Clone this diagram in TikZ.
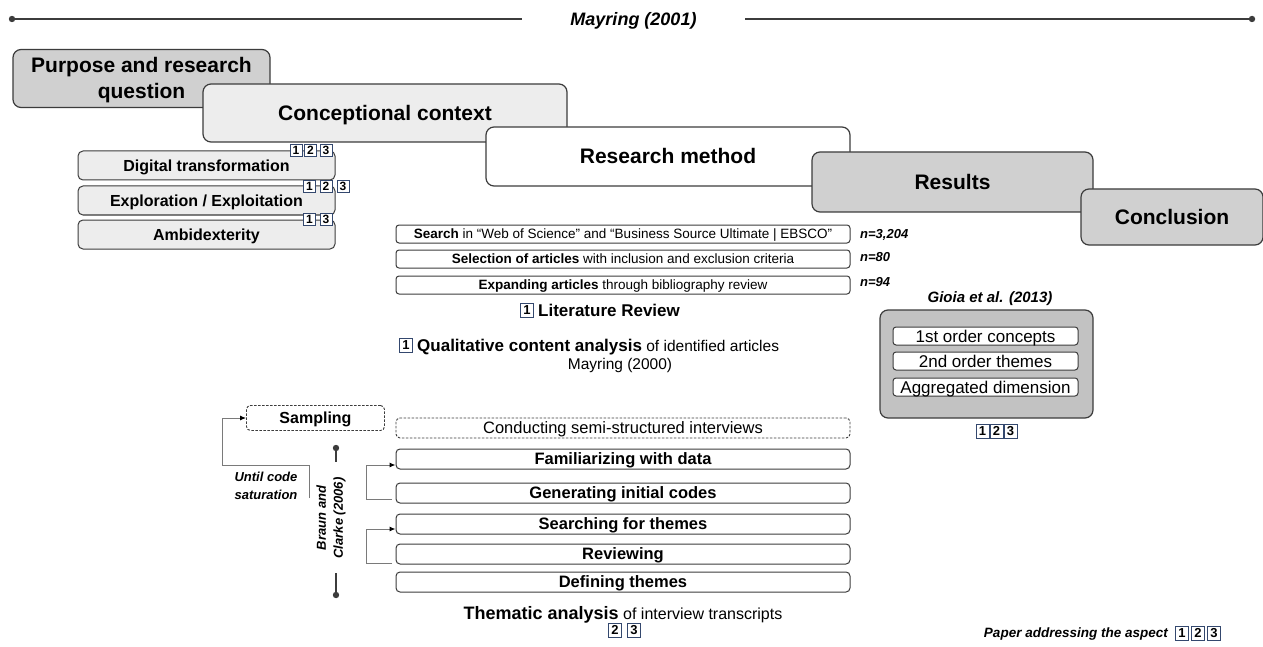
\documentclass[tikz,border=0pt]{standalone}
\usepackage{fontspec}
\setmainfont{Liberation Sans}
\usetikzlibrary{arrows.meta}
\definecolor{edge}{HTML}{3C3C3C}
\definecolor{darkfill}{HTML}{D0D0D0}
\definecolor{lightfill}{HTML}{EDEDED}
\definecolor{gioiafill}{HTML}{C2C2C2}
\definecolor{badgeedge}{HTML}{34486E}
\definecolor{loopline}{HTML}{7A7A7A}
\newcommand{\fsz}[1]{\fontsize{#1}{#1}\selectfont}
\tikzset{
  stage/.style={draw=edge, line width=1.2pt, rounded corners=8pt, align=center,
    inner sep=0pt, text height=15pt, text depth=0pt,
    font=\bfseries\fontsize{21}{26}\selectfont},
  subbox/.style={draw=edge, line width=1pt, fill=lightfill, rounded corners=5pt,
    inner sep=0pt, minimum width=257pt, minimum height=29pt,
    text height=11.5pt, text depth=0pt, font=\bfseries\fsz{16}},
  litbox/.style={draw=edge, line width=1pt, rounded corners=3pt, inner sep=0pt,
    minimum width=454pt, minimum height=18pt, text height=9.7pt, text depth=0pt,
    font=\fsz{13.5}},
  stepbox/.style={draw=edge, line width=1pt, rounded corners=4pt, inner sep=0pt,
    minimum width=454pt, minimum height=20pt, text height=11.8pt, text depth=0pt,
    font=\bfseries\fsz{16.5}},
  dashbox/.style={draw=edge, line width=0.9pt, dash pattern=on 2.5pt off 1.5pt,
    rounded corners=4pt, inner sep=0pt, text height=11.6pt, text depth=0pt},
  gbox/.style={draw=edge, line width=1pt, fill=white, rounded corners=3pt, inner sep=0pt,
    minimum width=185pt, minimum height=18pt, text height=12pt, text depth=0pt,
    font=\fsz{17}},
  badgebox/.style={draw=badgeedge, fill=white, line width=0.9pt, minimum width=12pt,
    minimum height=12pt, inner sep=0pt, text height=8.6pt, text depth=0pt,
    font=\bfseries\fsz{12}},
  bigbadge/.style={badgebox, minimum width=13pt, minimum height=14pt,
    text height=9.3pt, font=\bfseries\fsz{13}},
  nlabel/.style={anchor=west, inner sep=0pt, text height=9.3pt, text depth=0pt,
    font=\bfseries\itshape\fsz{13}},
  tip/.style={-{Latex[length=6pt,width=5pt,color=black]}, draw=loopline, line width=1pt},
}
\begin{document}
\begin{tikzpicture}[x=1pt, y=-1pt]
\useasboundingbox[fill=white] (0,0) rectangle (1263,647);

% timeline with title
\coordinate (tl) at (12,19);
\coordinate (tr) at (1252,19);
\draw[line width=1.3pt, edge] (tl) -- (tr);
\fill[edge] (tl) circle (3.2) (tr) circle (3.2);
\node[fill=white, minimum width=223pt, minimum height=30pt, inner sep=0pt,
  text height=12.5pt, text depth=0pt, font=\bfseries\itshape\fsz{18}] (title)
  at (633.5,19) {Mayring (2001)};

% stacked stage boxes
\node[stage, fill=darkfill, minimum width=257pt, minimum height=58pt, text height=41pt]
  (purpose) at (141.5,78.5) {Purpose and research\\question};
\node[stage, fill=lightfill, minimum width=364pt, minimum height=58pt] (concept) at (385,113)
  {Conceptional context};
\node[stage, fill=white, minimum width=364pt, minimum height=59pt] (method) at (668,156.5)
  {Research method};
\node[stage, fill=darkfill, minimum width=281pt, minimum height=60pt] (results) at (952.5,182)
  {Results};
\node[stage, fill=darkfill, minimum width=182pt, minimum height=56pt] (conclusion) at (1172,217)
  {Conclusion};

% concepts
\node[subbox] (digital) at (206.5,165.5) {Digital transformation};
\node[subbox] (explo) at (206.5,200.5) {Exploration / Exploitation};
\node[subbox] (ambi) at (206.5,234.5) {Ambidexterity};
\node[badgebox] (d1) at (296,150) {1};
\node[badgebox] (d2) at (310.5,150) {2};
\node[badgebox] (d3) at (326,150) {3};
\node[badgebox] (e1) at (309.5,186) {1};
\node[badgebox] (e2) at (326,186) {2};
\node[badgebox] (e3) at (343,186) {3};
\node[badgebox] (a1) at (309.5,219) {1};
\node[badgebox] (a3) at (326,219) {3};

% literature review
\node[litbox] (search) at (623,234) {\textbf{Search} in “Web of Science” and “Business Source Ultimate | EBSCO”};
\node[litbox] (select) at (623,259) {\textbf{Selection of articles} with inclusion and exclusion criteria};
\node[litbox] (expand) at (623,285) {\textbf{Expanding articles} through bibliography review};
\node[nlabel] (n1) at (860,234) {n=3,204};
\node[nlabel] (n2) at (860,257) {n=80};
\node[nlabel] (n3) at (860,282) {n=94};
\node[bigbadge] (lr1) at (527,310) {1};
\node[anchor=west, inner sep=0pt, text height=12.2pt, text depth=0pt,
  font=\bfseries\fsz{17}] (litrev) at (538,310) {Literature Review};

% qualitative content analysis
\node[bigbadge] (q1) at (406,345) {1};
\node[anchor=west, inner sep=0pt, text height=12.2pt, text depth=0pt, font=\fsz{15.5}] (qual)
  at (417,345) {{\bfseries\fsz{17}Qualitative content analysis} of identified articles};
\node[inner sep=0pt, text height=11pt, text depth=0pt, font=\fsz{15.5}] (may2000)
  at (620,364) {Mayring (2000)};

% Gioia methodology
\node[inner sep=0pt, text height=10.7pt, text depth=0pt, font=\bfseries\itshape\fsz{15}] (gioia)
  at (990,297) {Gioia et al. (2013)};
\node[draw=edge, line width=1.2pt, fill=gioiafill, rounded corners=8pt,
  minimum width=213pt, minimum height=108pt] (gframe) at (986.5,364) {};
\node[gbox] (first) at (985.5,336) {1st order concepts};
\node[gbox] (second) at (985.5,361) {2nd order themes};
\node[gbox] (aggr) at (985.5,387) {Aggregated dimension};
\node[bigbadge] (g1) at (982.5,431) {1};
\node[bigbadge] (g2) at (996.5,431) {2};
\node[bigbadge] (g3) at (1010.5,431) {3};

% interviews and thematic analysis
\node[dashbox, minimum width=138pt, minimum height=25pt, font=\bfseries\fsz{16}] (sampling)
  at (315.5,418) {Sampling};
\node[dashbox, minimum width=454pt, minimum height=20pt, text height=11.8pt, font=\fsz{16.5}] (conduct)
  at (623,428) {Conducting semi-structured interviews};
\node[stepbox] (fam) at (623,459) {Familiarizing with data};
\node[stepbox] (gen) at (623,493) {Generating initial codes};
\node[stepbox] (seek) at (623,524) {Searching for themes};
\node[stepbox] (review) at (623,554) {Reviewing};
\node[stepbox] (define) at (623,582) {Defining themes};

% sampling loop
\coordinate (s1) at (309,498);
\coordinate (s2) at (309,465);
\coordinate (s3) at (222,465);
\coordinate (s4) at (222,418);
\draw[tip] (s1) -- (s2) -- (s3) -- (s4) -- (sampling.west);
\node[align=center, inner sep=0pt, font=\bfseries\itshape\fontsize{13}{18}\selectfont] (until)
  at (266,486) {Until code\\saturation};

% phase loops
\coordinate (f1) at (392,499);
\coordinate (f2) at (366,499);
\coordinate (f3) at (366,465);
\draw[tip] (f1) -- (f2) -- (f3) -- (f3 -| fam.west);
\coordinate (r1) at (392,563);
\coordinate (r2) at (366,563);
\coordinate (r3) at (366,529);
\draw[tip] (r1) -- (r2) -- (r3) -- (r3 -| seek.west);

% Braun and Clarke bracket
\node[rotate=90, align=center, inner sep=0pt, font=\bfseries\itshape\fontsize{13}{17}\selectfont]
  (braun) at (331,518) {Braun and\\Clarke (2006)};
\coordinate (bt) at (336,448);
\coordinate (bt2) at (336,462);
\coordinate (bb) at (336,595);
\coordinate (bb2) at (336,573);
\draw[line width=1.2pt, edge] (bt) -- (bt2) (bb2) -- (bb);
\fill[edge] (bt) circle (3.2) (bb) circle (3.2);

\node[inner sep=0pt, text height=12.9pt, text depth=0pt, font=\fsz{16}] (thematic) at (623,613)
  {{\bfseries\fsz{18}Thematic analysis} of interview transcripts};
\node[bigbadge] (t2) at (615,630) {2};
\node[bigbadge] (t3) at (634,630) {3};

% legend
\node[anchor=east, inner sep=0pt, text height=9.7pt, text depth=0pt,
  font=\bfseries\itshape\fsz{13.5}] (legend) at (1168,633) {Paper addressing the aspect};
\node[bigbadge] (p1) at (1182,633) {1};
\node[bigbadge] (p2) at (1198,633) {2};
\node[bigbadge] (p3) at (1214,633) {3};
\end{tikzpicture}
\end{document}
